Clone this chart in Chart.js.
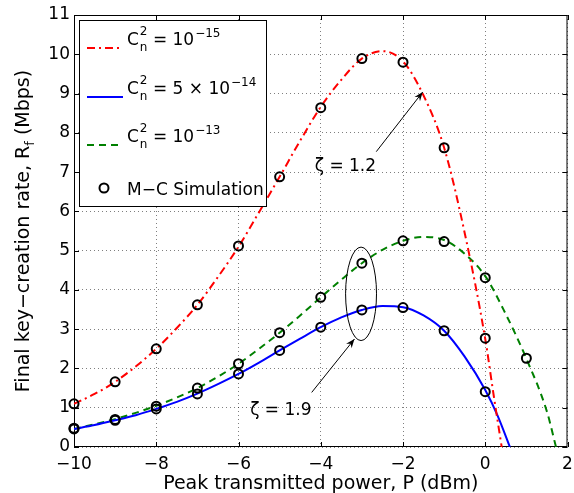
<!DOCTYPE html>
<html>
<head>
<meta charset="utf-8">
<script src="https://cdn.jsdelivr.net/npm/chart.js@4.4.1/dist/chart.umd.min.js"></script>
<style>
  html, body { margin: 0; padding: 0; background: #fff; }
</style>
</head>
<body>
<canvas id="chart" width="574" height="493"></canvas>
<script>
// theory curves
const redX = [-10, -9.5, -9, -8.5, -8, -7.5, -7, -6.5, -6, -5.5, -5, -4.5, -4, -3.5, -3, -2.5, -2, -1.5, -1, -0.5, 0, 0.2, 0.4];
const redY = [1.10, 1.35, 1.66, 2.05, 2.50, 3.03, 3.62, 4.33, 5.10, 5.98, 6.88, 7.80, 8.66, 9.35, 9.89, 10.08, 9.82, 8.95, 7.62, 5.45, 2.75, 1.35, 0];
const blueX = [-10, -9.5, -9, -8.5, -8, -7.5, -7, -6.5, -6, -5.5, -5, -4.5, -4, -3.5, -3, -2.5, -2, -1.5, -1, -0.5, 0, 0.3, 0.6];
const blueY = [0.46, 0.56, 0.68, 0.81, 0.97, 1.15, 1.36, 1.60, 1.86, 2.15, 2.46, 2.76, 3.05, 3.30, 3.49, 3.59, 3.56, 3.35, 2.96, 2.30, 1.45, 0.80, 0];
const greenX = [-10, -9.5, -9, -8.5, -8, -7.5, -7, -6.5, -6, -5.5, -5, -4.5, -4, -3.5, -3, -2.5, -2, -1.5, -1, -0.5, 0, 0.5, 1, 1.5, 1.72];
const greenY = [0.46, 0.58, 0.71, 0.87, 1.05, 1.26, 1.50, 1.79, 2.12, 2.50, 2.91, 3.35, 3.81, 4.26, 4.68, 5.02, 5.25, 5.35, 5.27, 4.92, 4.35, 3.38, 2.25, 0.90, 0];

// Monte-Carlo simulation points
const simX = [-10, -9, -8, -7, -6, -5, -4, -3, -2, -1, 0, 1];
const simRed = [1.10, 1.66, 2.50, 3.62, 5.12, 6.88, 8.64, 9.89, 9.80, 7.62, 2.77];
const simBlue = [0.46, 0.68, 0.97, 1.35, 1.86, 2.46, 3.05, 3.49, 3.55, 2.96, 1.41];
const simGreen = [0.48, 0.70, 1.04, 1.50, 2.12, 2.91, 3.81, 4.68, 5.25, 5.23, 4.31, 2.26];

const legendExp = ["\u221215", "\u221214", "\u221213"];
const legendMant = ["10", "5 \u00d7 10", "10"];

const FONT = "'DejaVu Sans', sans-serif";
const minus = (v) => (v < 0 ? "\u2212" + Math.abs(v) : String(v));
const pts = (xs, ys) => xs.slice(0, ys.length).map((x, i) => ({ x, y: ys[i] }));

const curve = (xs, ys, color, dash) => ({
  data: pts(xs, ys),
  showLine: true,
  borderColor: color,
  borderWidth: 2,
  borderDash: dash,
  pointRadius: 0,
  cubicInterpolationMode: "monotone",
  order: 2,
});
const sim = (ys) => ({
  data: pts(simX, ys),
  showLine: false,
  pointRadius: 4.5,
  pointBorderWidth: 2,
  pointBorderColor: "#000",
  pointBackgroundColor: "rgba(0,0,0,0)",
  clip: false,
  order: 1,
});

function arrow(ctx, x1, y1, x2, y2) {
  const ang = Math.atan2(y2 - y1, x2 - x1);
  ctx.beginPath();
  ctx.moveTo(x1, y1);
  ctx.lineTo(x2, y2);
  ctx.stroke();
  ctx.beginPath();
  ctx.moveTo(x2, y2);
  ctx.lineTo(x2 - 9 * Math.cos(ang) + 3.5 * Math.sin(ang), y2 - 9 * Math.sin(ang) - 3.5 * Math.cos(ang));
  ctx.lineTo(x2 - 6 * Math.cos(ang), y2 - 6 * Math.sin(ang));
  ctx.lineTo(x2 - 9 * Math.cos(ang) - 3.5 * Math.sin(ang), y2 - 9 * Math.sin(ang) + 3.5 * Math.cos(ang));
  ctx.closePath();
  ctx.fill();
}

const frame = {
  id: "frame",
  beforeDatasetsDraw(chart) {
    const { ctx, chartArea: a, scales: { x, y } } = chart;
    ctx.save();
    ctx.strokeStyle = "#000";
    ctx.lineWidth = 1;
    ctx.beginPath();
    x.ticks.forEach((t) => {
      const px = Math.round(x.getPixelForValue(t.value)) + 0.5;
      ctx.moveTo(px, a.bottom); ctx.lineTo(px, a.bottom - 5);
      ctx.moveTo(px, a.top); ctx.lineTo(px, a.top + 5);
    });
    y.ticks.forEach((t) => {
      const py = Math.round(y.getPixelForValue(t.value)) + 0.5;
      ctx.moveTo(a.left, py); ctx.lineTo(a.left + 5, py);
      ctx.moveTo(a.right, py); ctx.lineTo(a.right - 5, py);
    });
    ctx.stroke();
    ctx.strokeRect(a.left + 0.5, a.top + 0.5, a.width - 1, a.height - 1);
    ctx.restore();
  },
  afterDatasetsDraw(chart) {
    const { ctx, chartArea: a, scales: { x, y } } = chart;
    ctx.save();
    ctx.fillStyle = "#000";
    ctx.strokeStyle = "#000";
    ctx.lineWidth = 1;

    // zeta annotations
    ctx.font = "17px " + FONT;
    ctx.textAlign = "center";
    ctx.textBaseline = "middle";
    ctx.fillText("\u03b6 = 1.2", x.getPixelForValue(-3.40), y.getPixelForValue(7.13));
    arrow(ctx, x.getPixelForValue(-2.65), y.getPixelForValue(7.52), x.getPixelForValue(-1.52), y.getPixelForValue(9.04));
    ctx.fillText("\u03b6 = 1.9", x.getPixelForValue(-4.97), y.getPixelForValue(0.93));
    arrow(ctx, x.getPixelForValue(-4.22), y.getPixelForValue(1.39), x.getPixelForValue(-3.18), y.getPixelForValue(2.75));
    ctx.beginPath();
    ctx.ellipse(x.getPixelForValue(-3.02), y.getPixelForValue(3.90),
      x.getPixelForValue(-3.02 + 0.376) - x.getPixelForValue(-3.02),
      y.getPixelForValue(3.90) - y.getPixelForValue(3.90 + 1.19), 0, 0, Math.PI * 2);
    ctx.stroke();

    // legend box
    const lx = 79.5, ly = 20.5, lw = 187, lh = 186;
    ctx.fillStyle = "#fff";
    ctx.fillRect(lx, ly, lw, lh);
    ctx.strokeRect(lx, ly, lw, lh);
    const colors = ["#ff0000", "#0000ff", "#008000"];
    const dashes = [[8, 4, 2, 4], [], [7, 5]];
    const bases = [45, 94, 142];
    ctx.textAlign = "left";
    ctx.textBaseline = "alphabetic";
    bases.forEach((b, i) => {
      ctx.save();
      ctx.strokeStyle = colors[i];
      ctx.lineWidth = 2;
      ctx.setLineDash(dashes[i]);
      ctx.beginPath();
      ctx.moveTo(87, b + 3);
      ctx.lineTo(123, b + 3);
      ctx.stroke();
      ctx.restore();
      ctx.fillStyle = "#000";
      let cx = 127;
      ctx.font = "17px " + FONT;
      ctx.fillText("C", cx, b);
      cx += ctx.measureText("C").width + 1;
      ctx.font = "12px " + FONT;
      ctx.fillText("2", cx, b - 10);
      ctx.fillText("n", cx, b + 6);
      cx += ctx.measureText("n").width;
      ctx.font = "17px " + FONT;
      const s = " = " + legendMant[i];
      ctx.fillText(s, cx, b);
      cx += ctx.measureText(s).width + 1;
      ctx.font = "12px " + FONT;
      ctx.fillText(legendExp[i], cx, b - 8);
    });
    ctx.beginPath();
    ctx.lineWidth = 2;
    ctx.arc(104, 188, 4.5, 0, Math.PI * 2);
    ctx.stroke();
    ctx.font = "17px " + FONT;
    ctx.fillText("M\u2212C Simulation", 127, 195);

    // axis titles
    ctx.font = "19px " + FONT;
    ctx.textAlign = "center";
    ctx.fillText("Peak transmitted power, P (dBm)", (a.left + a.right) / 2, 489);

    ctx.save();
    ctx.translate(29, (a.top + a.bottom) / 2);
    ctx.rotate(-Math.PI / 2);
    ctx.textAlign = "left";
    const t1 = "Final key\u2212creation rate, R", t2 = "f", t3 = " (Mbps)";
    ctx.font = "19px " + FONT;
    const w1 = ctx.measureText(t1).width, w3 = ctx.measureText(t3).width;
    ctx.font = "13px " + FONT;
    const w2 = ctx.measureText(t2).width;
    let px = -(w1 + w2 + w3) / 2;
    ctx.font = "19px " + FONT;
    ctx.fillText(t1, px, 0);
    px += w1;
    ctx.font = "13px " + FONT;
    ctx.fillText(t2, px, 5);
    px += w2;
    ctx.font = "19px " + FONT;
    ctx.fillText(t3, px, 0);
    ctx.restore();

    ctx.restore();
  },
};

new Chart(document.getElementById("chart").getContext("2d"), {
  type: "scatter",
  data: {
    datasets: [
      sim(simRed),
      sim(simBlue),
      sim(simGreen),
      curve(redX, redY, "#ff0000", [8, 4, 2, 4]),
      curve(blueX, blueY, "#0000ff", []),
      curve(greenX, greenY, "#008000", [7, 5]),
    ],
  },
  options: {
    responsive: false,
    animation: false,
    devicePixelRatio: 1,
    layout: { padding: { top: 15, right: 3, left: 0, bottom: 0 } },
    plugins: { legend: { display: false }, tooltip: { enabled: false } },
    scales: {
      x: {
        min: -10,
        max: 2,
        ticks: { stepSize: 2, color: "#000", font: { family: FONT, size: 17 }, padding: 7, maxRotation: 0, callback: minus },
        grid: { color: "rgba(0,0,0,0.5)", drawTicks: false },
        border: { display: false, dash: [1, 3] },
        afterFit(s) { s.height = 46; s.paddingLeft = 0; s.paddingRight = 0; },
      },
      y: {
        min: 0,
        max: 11,
        ticks: { stepSize: 1, color: "#000", font: { family: FONT, size: 17 }, padding: 4, callback: minus },
        grid: { color: "rgba(0,0,0,0.5)", drawTicks: false },
        border: { display: false, dash: [1, 3] },
        afterFit(s) { s.width = 74; s.paddingTop = 0; s.paddingBottom = 0; },
      },
    },
  },
  plugins: [frame],
});
</script>
</body>
</html>
